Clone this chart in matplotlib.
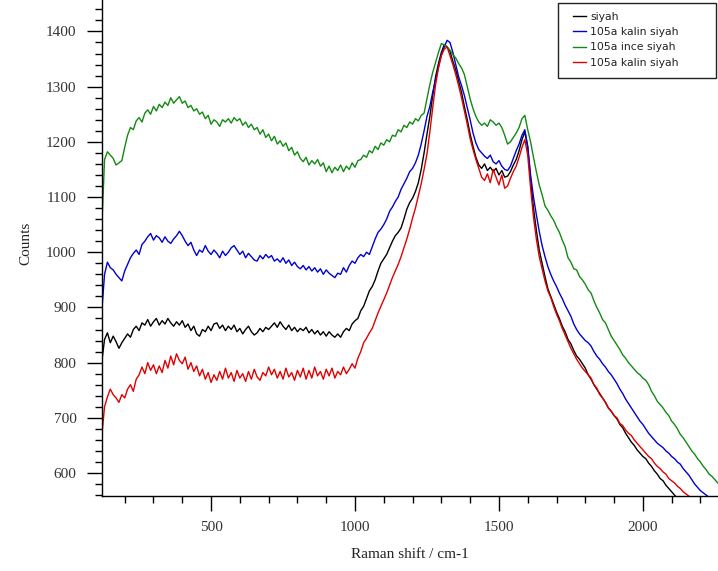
import numpy as np
import matplotlib
matplotlib.use("Agg")
import matplotlib.pyplot as plt
from matplotlib.patches import Rectangle
from matplotlib.ticker import MultipleLocator

# Raman shift grid (cm-1), 10 cm-1 steps
shift = np.arange(120, 2261, 10)

labels = ["siyah", "105a kalin siyah", "105a ince siyah", "105a kalin siyah"]
colors = ["#000000", "#0000d0", "#128a12", "#e00000"]

siyah = [
    800, 842, 854, 836, 848, 838, 826, 836, 844, 852,
    846, 860, 866, 858, 872, 868, 878, 866, 874, 880,
    868, 876, 870, 880, 872, 866, 874, 868, 876, 864,
    870, 858, 866, 852, 848, 860, 856, 866, 858, 870,
    872, 862, 868, 858, 866, 860, 868, 856, 862, 852,
    860, 866, 856, 850, 854, 862, 856, 864, 860, 866,
    872, 864, 874, 866, 860, 868, 858, 864, 856, 862,
    858, 864, 854, 860, 852, 858, 850, 856, 848, 856,
    850, 846, 852, 846, 856, 862, 858, 870, 876, 880,
    894, 902, 916, 930, 938, 950, 966, 980, 988, 996,
    1008, 1020, 1030, 1036, 1044, 1060, 1078, 1090, 1098, 1110,
    1126, 1150, 1180, 1214, 1246, 1284, 1318, 1342, 1362, 1376,
    1372, 1364, 1346, 1330, 1310, 1290, 1264, 1240, 1214, 1192,
    1172, 1158, 1152, 1160, 1148, 1154, 1146, 1152, 1140, 1148,
    1136, 1138, 1146, 1158, 1168, 1184, 1204, 1218, 1190, 1132,
    1080, 1040, 1004, 980, 956, 934, 920, 906, 892, 880,
    866, 856, 842, 834, 822, 812, 806, 798, 790, 778,
    770, 760, 752, 744, 736, 728, 718, 712, 704, 698,
    688, 682, 672, 664, 656, 650, 642, 636, 630, 626,
    618, 612, 604, 598, 590, 586, 578, 572, 566, 560,
    554, 548, 542, 536, 530, 524, 518, 512, 506, 500,
    494, 488, 482, 476, 470,
]

kalin_siyah = [
    890, 960, 982, 972, 968, 960, 954, 948, 966, 978,
    990, 998, 1004, 996, 1014, 1020, 1028, 1034, 1022, 1030,
    1026, 1018, 1028, 1020, 1016, 1024, 1030, 1038, 1030, 1020,
    1012, 1018, 1004, 994, 1004, 1000, 1012, 1002, 996, 1004,
    998, 990, 1002, 994, 1000, 1008, 1012, 1004, 996, 1002,
    990, 998, 992, 986, 984, 994, 988, 996, 990, 994,
    984, 988, 982, 990, 980, 986, 976, 982, 974, 970,
    976, 968, 974, 966, 972, 964, 970, 960, 968, 962,
    958, 954, 962, 960, 972, 964, 976, 984, 980, 990,
    996, 992, 1000, 996, 1010, 1024, 1036, 1042, 1050, 1060,
    1074, 1082, 1092, 1100, 1114, 1124, 1134, 1146, 1152, 1162,
    1176, 1196, 1220, 1246, 1264, 1290, 1312, 1336, 1358, 1372,
    1384, 1380, 1362, 1340, 1318, 1302, 1284, 1262, 1240, 1216,
    1198, 1186, 1180, 1174, 1170, 1176, 1164, 1160, 1166, 1156,
    1150, 1148, 1156, 1170, 1184, 1196, 1212, 1222, 1192, 1140,
    1100, 1068, 1038, 1012, 992, 974, 960, 948, 938, 926,
    916, 904, 894, 884, 870, 860, 852, 846, 840, 836,
    830, 820, 812, 806, 798, 792, 784, 778, 770, 762,
    752, 744, 734, 726, 718, 710, 702, 694, 688, 680,
    672, 666, 660, 654, 650, 646, 640, 636, 630, 626,
    620, 616, 608, 602, 596, 588, 580, 574, 568, 564,
    560, 556, 552, 548, 544,
]

ince_siyah = [
    1040, 1168, 1182, 1176, 1170, 1158, 1162, 1166, 1190, 1212,
    1226, 1222, 1238, 1244, 1236, 1252, 1258, 1250, 1264, 1256,
    1268, 1262, 1272, 1266, 1280, 1270, 1276, 1282, 1270, 1274,
    1262, 1266, 1256, 1260, 1250, 1254, 1242, 1248, 1232, 1240,
    1236, 1228, 1240, 1236, 1242, 1234, 1244, 1238, 1242, 1230,
    1236, 1226, 1232, 1222, 1226, 1214, 1222, 1208, 1214, 1202,
    1210, 1196, 1202, 1192, 1198, 1184, 1190, 1176, 1182, 1170,
    1164, 1172, 1158, 1166, 1160, 1168, 1156, 1162, 1146, 1156,
    1144, 1154, 1148, 1158, 1146, 1156, 1150, 1162, 1154, 1166,
    1168, 1176, 1172, 1184, 1180, 1192, 1186, 1198, 1194, 1204,
    1200, 1212, 1210, 1222, 1218, 1230, 1226, 1236, 1232, 1242,
    1238, 1248, 1252, 1278, 1304, 1326, 1344, 1362, 1378, 1376,
    1372, 1366, 1358, 1352, 1342, 1334, 1322, 1300, 1278, 1260,
    1246, 1236, 1230, 1234, 1228, 1240, 1236, 1230, 1234, 1226,
    1212, 1196, 1200, 1208, 1216, 1226, 1242, 1248, 1222, 1200,
    1172, 1146, 1122, 1104, 1084, 1076, 1066, 1058, 1046, 1036,
    1022, 1010, 990, 982, 970, 968, 956, 950, 942, 932,
    926, 912, 900, 890, 878, 872, 860, 848, 840, 832,
    824, 814, 808, 800, 794, 788, 782, 778, 772, 768,
    760, 748, 740, 730, 724, 718, 710, 704, 694, 688,
    680, 670, 664, 656, 648, 640, 634, 626, 620, 612,
    606, 598, 594, 588, 582,
]

kalin_siyah_2 = [
    665, 720, 738, 752, 742, 736, 728, 742, 736, 752,
    760, 748, 770, 778, 792, 780, 800, 786, 796, 780,
    794, 782, 804, 790, 812, 796, 816, 804, 798, 810,
    788, 800, 784, 794, 776, 788, 770, 782, 764, 778,
    768, 784, 770, 790, 772, 782, 766, 786, 772, 780,
    766, 784, 770, 788, 774, 768, 782, 776, 792, 778,
    788, 772, 784, 770, 790, 774, 782, 768, 786, 774,
    790, 770, 786, 772, 792, 776, 784, 770, 788, 776,
    790, 772, 784, 778, 792, 780, 788, 798, 790, 808,
    820, 836, 844, 854, 862, 876, 890, 902, 914, 926,
    940, 954, 966, 978, 992, 1008, 1024, 1042, 1062, 1080,
    1102, 1124, 1150, 1178, 1218, 1262, 1304, 1334, 1356, 1368,
    1372, 1356, 1340, 1322, 1302, 1280, 1256, 1232, 1206, 1186,
    1168, 1152, 1136, 1130, 1142, 1126, 1150, 1136, 1122, 1140,
    1116, 1120, 1134, 1146, 1156, 1172, 1190, 1204, 1176, 1116,
    1064, 1024, 992, 970, 948, 930, 918, 902, 888, 876,
    862, 850, 838, 826, 816, 806, 798, 790, 784, 778,
    772, 760, 754, 742, 736, 728, 718, 712, 704, 700,
    690, 686, 678, 672, 668, 660, 654, 648, 642, 636,
    630, 626, 618, 612, 608, 602, 598, 590, 586, 582,
    576, 572, 566, 562, 558, 552, 546, 540, 534, 528,
    522, 516, 510, 504, 498,
]

series = [siyah, kalin_siyah, ince_siyah, kalin_siyah_2]

fig = plt.figure(figsize=(7.18, 5.71), dpi=100)
ax = fig.add_axes([0.1416, 0.131, 0.8584, 0.869])

handles = []
for vals, lab, col in zip(series, labels, colors):
    h, = ax.plot(shift, vals, color=col, lw=1.0, label=lab)
    handles.append(h)

ax.set_xlim(120, 2261)
ax.set_ylim(558, 1457)

for side in ("top", "right"):
    ax.spines[side].set_visible(False)
for side in ("left", "bottom"):
    ax.spines[side].set_linewidth(1.0)

ax.xaxis.set_major_locator(MultipleLocator(500))
ax.xaxis.set_minor_locator(MultipleLocator(100))
ax.yaxis.set_major_locator(MultipleLocator(100))
ax.yaxis.set_minor_locator(MultipleLocator(20))
ax.tick_params(which="major", direction="out", length=11, width=1.0, pad=7,
               labelsize=11, labelcolor="#333333")
ax.tick_params(which="minor", direction="out", length=5, width=1.0)
for t in ax.get_xticklabels() + ax.get_yticklabels():
    t.set_family("Liberation Serif")

ax.set_xlabel("Raman shift / cm-1", family="Liberation Serif", fontsize=11,
              color="#222222")
ax.set_ylabel("Counts", family="Liberation Serif", fontsize=11,
              color="#222222")
ax.xaxis.set_label_coords(0.5, -0.105)
ax.yaxis.set_label_coords(-0.113, 0.51)

# legend box
W, H = 718.0, 571.0
fig.patches.append(Rectangle((558 / W, 1 - 78 / H), (716 - 558) / W, (78 - 3) / H,
                             transform=fig.transFigure, fill=True,
                             facecolor="white", edgecolor="#222222", lw=1.0,
                             zorder=5))
leg = fig.legend(handles=handles, labels=labels, loc="upper left",
                 bbox_to_anchor=(565 / W, 1 - 4 / H), frameon=False,
                 prop={"family": "DejaVu Sans", "size": 7.8},
                 handlelength=1.2, handletextpad=0.45, labelspacing=0.5,
                 borderpad=0.2)
leg.set_zorder(6)
for t in leg.get_texts():
    t.set_color("#222222")

fig.savefig("out.png", dpi=100)
